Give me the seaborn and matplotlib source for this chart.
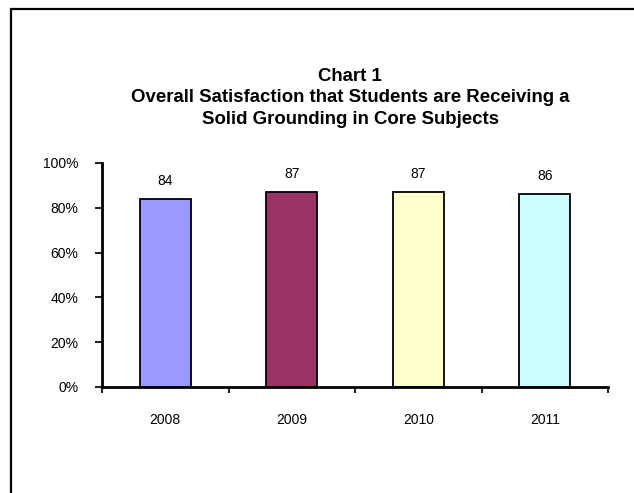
import matplotlib
matplotlib.use("Agg")
import matplotlib.pyplot as plt
from matplotlib.patches import Rectangle
from matplotlib.ticker import FixedLocator
import seaborn as sns
import pandas as pd

years = ["2008", "2009", "2010", "2011"]
satisfaction = [84, 87, 87, 86]
bar_colors = ["#9999FF", "#993366", "#FFFFCC", "#CCFFFF"]
y_ticks = [0, 20, 40, 60, 80, 100]

title_lines = ["Chart 1",
               "Overall Satisfaction that Students are Receiving a",
               "Solid Grounding in Core Subjects"]

sns.set_style("white")
plt.rcParams['font.family'] = ['Liberation Sans', 'DejaVu Sans']

df = pd.DataFrame({"year": years, "value": satisfaction})

fig = plt.figure(figsize=(6.34, 4.93), dpi=100)
ax = fig.add_axes([102 / 634, 1 - 387 / 493, (608 - 102) / 634, (387 - 163) / 493])

sns.barplot(data=df, x="year", y="value", hue="year", palette=bar_colors,
            saturation=1, width=0.4, edgecolor="black", linewidth=1.3,
            legend=False, ax=ax)

for cont in ax.containers:
    ax.bar_label(cont, fmt="%d", padding=8, fontsize=10, color="black")

ax.set_xlim(-0.5, 3.5)
ax.set_ylim(0, 100)
ax.set_yticks(y_ticks)
ax.set_yticklabels([f"{t}%" for t in y_ticks], fontsize=10, color="black")
ax.tick_params(axis="y", direction="out", length=5, width=1.5, pad=12, left=True)
ax.tick_params(axis="x", which="major", length=0, pad=19, labelsize=10, labelcolor="black")
ax.xaxis.set_minor_locator(FixedLocator([-0.5, 0.5, 1.5, 2.5, 3.5]))
ax.tick_params(axis="x", which="minor", direction="out", length=4, width=1.5, bottom=True)
ax.set_xlabel("")
ax.set_ylabel("")

for side in ["top", "right"]:
    ax.spines[side].set_visible(False)
for side in ["left", "bottom"]:
    ax.spines[side].set_color("black")
    ax.spines[side].set_linewidth(2)

# title block
fig.text(350 / 634, 1 - 98 / 493, "\n".join(title_lines), ha="center", va="center",
         fontsize=13.4, fontweight="bold", linespacing=1.33, color="black")

# outer chart frame (runs past the right and bottom edges)
fig.patches.append(Rectangle((11 / 634, -0.2), 1.2, 1 - 9 / 493 + 0.2,
                             transform=fig.transFigure, fill=False,
                             edgecolor="black", linewidth=1.6))

fig.savefig("out.png", dpi=100)
